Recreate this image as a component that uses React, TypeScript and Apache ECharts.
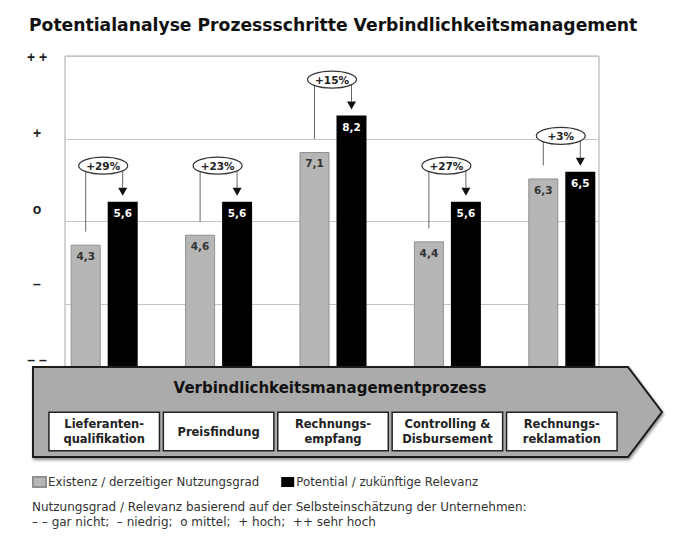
import React, { useEffect, useRef } from "react";
import * as echarts from "echarts";

const chartTitle = "Potentialanalyse Prozessschritte Verbindlichkeitsmanagement";
const processTitle = "Verbindlichkeitsmanagementprozess";
const categories = [
  "Lieferanten-\nqualifikation",
  "Preisfindung",
  "Rechnungs-\nempfang",
  "Controlling &\nDisbursement",
  "Rechnungs-\nreklamation",
];
const existenz = [4.3, 4.6, 7.1, 4.4, 6.3];
const potential = [5.6, 5.6, 8.2, 5.6, 6.5];
const increase = ["+29%", "+23%", "+15%", "+27%", "+3%"];
const levelLabels = ["– –", "–", "o", "+", "+ +"];
const seriesNames = ["Existenz / derzeitiger Nutzungsgrad", "Potential / zukünftige Relevanz"];
const noteLines = [
  "Nutzungsgrad / Relevanz basierend auf der Selbsteinschätzung der Unternehmen:",
  "– – gar nicht;  – niedrig;  o mittel;  + hoch;  ++ sehr hoch",
];

const FONT = "'Liberation Sans', Arial, sans-serif";
const WIDE = "'DejaVu Sans', Verdana, sans-serif";
const BAR_W = 30;
const BAR_GAP = 7;

export default function App() {
  const ref = useRef<HTMLDivElement>(null);
  useEffect(() => {
    if (!ref.current) return;
    const chart = echarts.init(ref.current, null, { renderer: "svg" });
    const fmt = (v: number) => String(v).replace(".", ",");
    const option: any = {
      animation: false,
      textStyle: { fontFamily: WIDE },
      title: {
        text: chartTitle,
        left: 24,
        top: 11,
        textStyle: { fontFamily: WIDE, fontSize: 17.2, fontWeight: "bold", color: "#111" },
      },
      legend: {
        left: 32,
        top: 476,
        padding: 0,
        itemWidth: 13,
        itemHeight: 10,
        itemGap: 22,
        icon: "rect",
        textStyle: { fontFamily: WIDE, fontSize: 11.8, color: "#333", padding: [0, 0, 0, -3] },
        data: seriesNames,
      },
      grid: [
        { left: 47, right: 57, top: 56, bottom: 152 },
        { left: 65, right: 77, top: 56, bottom: 152, show: true, borderColor: "#a8a8a8", borderWidth: 1 },
        { left: 65, width: 10, top: 57, height: 303 },
      ],
      xAxis: [
        {
          type: "category",
          gridIndex: 0,
          data: categories,
          z: 10,
          axisLine: { show: false },
          axisTick: { show: false },
          axisLabel: {
            interval: 0,
            margin: 26,
            formatter: (v: string) => (v.includes("\n") ? `{two|${v}}` : `{one|${v}}`),
            backgroundColor: "#fff",
            borderColor: "#222",
            borderWidth: 1.5,
            width: 104,
            padding: [3.5, 2.5],
            align: "center",
            rich: {
              two: { fontFamily: WIDE, fontSize: 11.5, fontWeight: "bold", color: "#222", lineHeight: 15, align: "center" },
              one: { fontFamily: WIDE, fontSize: 11.5, fontWeight: "bold", color: "#222", lineHeight: 30, align: "center" },
            },
          },
        },
        { type: "value", gridIndex: 1, show: false, min: 0, max: 1 },
        { type: "value", gridIndex: 2, show: false, min: 0, max: 1 },
      ],
      yAxis: [
        { type: "value", gridIndex: 0, min: 0, max: 10, show: false, splitLine: { show: false } },
        {
          type: "value",
          gridIndex: 1,
          min: 0,
          max: 10,
          interval: 2.5,
          axisLine: { show: false },
          axisTick: { show: false },
          axisLabel: { show: false },
          splitLine: { lineStyle: { color: "#c4c4c4", width: 1 } },
        },
        {
          type: "value",
          gridIndex: 2,
          min: 0,
          max: 4,
          interval: 1,
          axisLine: { show: false },
          axisTick: { show: false },
          splitLine: { show: false },
          axisLabel: {
            formatter: (v: number) => levelLabels[v] ?? "",
            align: "center",
            margin: 28,
            fontFamily: FONT,
            fontSize: 14,
            fontWeight: "bold",
            color: "#222",
          },
        },
      ],
      series: [
        {
          name: seriesNames[0],
          type: "bar",
          xAxisIndex: 0,
          yAxisIndex: 0,
          data: existenz,
          barWidth: BAR_W,
          barGap: `${(BAR_GAP / BAR_W) * 100}%`,
          itemStyle: { color: "#b6b6b6", borderColor: "#909090", borderWidth: 1 },
          label: {
            show: true,
            position: "insideTop",
            distance: 6,
            formatter: (p: any) => fmt(p.value),
            fontFamily: WIDE,
            fontSize: 10.5,
            fontWeight: "bold",
            color: "#333",
          },
        },
        {
          name: seriesNames[1],
          type: "bar",
          xAxisIndex: 0,
          yAxisIndex: 0,
          data: potential,
          barWidth: BAR_W,
          itemStyle: { color: "#000" },
          label: {
            show: true,
            position: "insideTop",
            distance: 6,
            formatter: (p: any) => fmt(p.value),
            fontFamily: WIDE,
            fontSize: 10.5,
            fontWeight: "bold",
            color: "#fff",
          },
        },
        {
          type: "custom",
          xAxisIndex: 0,
          yAxisIndex: 0,
          data: existenz.map((g, i) => [i, g, potential[i]]),
          encode: { x: 0, y: 1 },
          z: 3,
          renderItem: (params: any, api: any) => {
            const i = api.value(0);
            const g = api.value(1);
            const p = api.value(2);
            const [cx, yG] = api.coord([i, g]);
            const yB = api.coord([i, p])[1];
            const half = (BAR_W + BAR_GAP) / 2;
            const xl = cx - half;
            const xr = cx + half;
            const ey = yB - 36;
            const tip = yB - 6;
            return {
              type: "group",
              children: [
                {
                  type: "polyline",
                  shape: { points: [[xl, yG - 13], [xl, ey], [xr, ey], [xr, tip - 8]] },
                  style: { stroke: "#666", lineWidth: 1, fill: null },
                },
                {
                  type: "polygon",
                  shape: { points: [[xr - 4.5, tip - 8], [xr + 4.5, tip - 8], [xr, tip]] },
                  style: { fill: "#111" },
                },
                {
                  type: "ellipse",
                  shape: { cx: cx - 1, cy: ey, rx: 24.5, ry: 8.5 },
                  style: { fill: "#fff", stroke: "#333", lineWidth: 1.2 },
                },
                {
                  type: "text",
                  x: cx - 1,
                  y: ey,
                  style: {
                    text: increase[params.dataIndex],
                    fill: "#222",
                    font: `bold 10.5px ${WIDE}`,
                    align: "center",
                    verticalAlign: "middle",
                  },
                },
              ],
            };
          },
        },
      ],
      graphic: [
        {
          type: "polygon",
          z: 5,
          shape: { points: [[33, 367], [628, 367], [662, 412], [628, 457], [33, 457]] },
          style: {
            fill: "#ababab",
            stroke: "#1a1a1a",
            lineWidth: 2,
            shadowBlur: 3,
            shadowOffsetX: 1,
            shadowOffsetY: 2,
            shadowColor: "rgba(0,0,0,0.45)",
          },
        },
        {
          type: "text",
          z: 6,
          x: 330,
          y: 388,
          style: {
            text: processTitle,
            font: `bold 15px ${WIDE}`,
            fill: "#111",
            align: "center",
            verticalAlign: "middle",
            textAlign: "center",
            textVerticalAlign: "middle",
          },
        },
        {
          type: "text",
          x: 32,
          y: 507,
          style: {
            text: noteLines[0],
            font: `12px ${WIDE}`,
            fill: "#333",
            verticalAlign: "middle",
            textVerticalAlign: "middle",
          },
        },
        {
          type: "text",
          x: 32,
          y: 522,
          style: {
            text: noteLines[1],
            font: `12px ${WIDE}`,
            fill: "#333",
            verticalAlign: "middle",
            textVerticalAlign: "middle",
          },
        },
      ],
    };
    chart.setOption(option);
    return () => chart.dispose();
  }, []);
  return (
    <div
      ref={ref}
      style={{ position: "absolute", left: 0, top: 0, width: 676, height: 539, background: "#fff" }}
    />
  );
}
